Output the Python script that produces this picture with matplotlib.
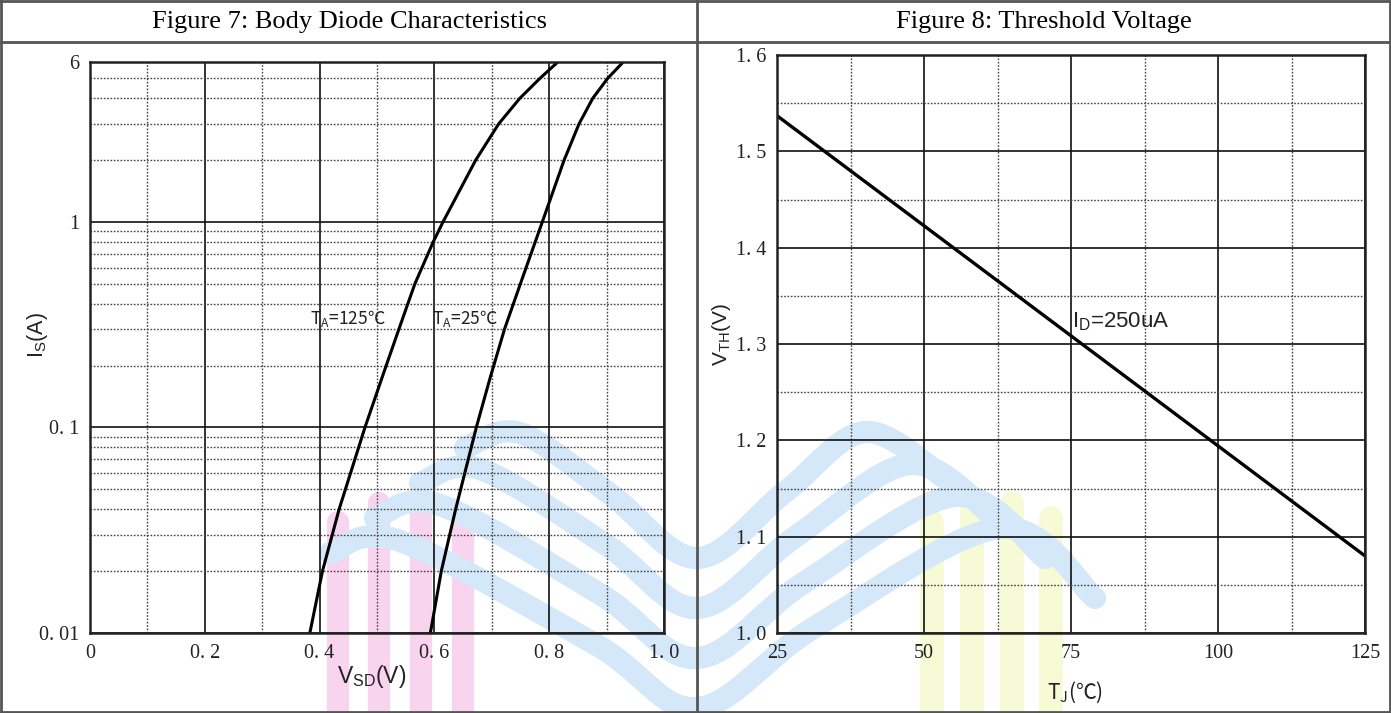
import numpy as np
import matplotlib
matplotlib.use("Agg")
import matplotlib.pyplot as plt
from matplotlib.lines import Line2D
from matplotlib.ticker import FixedLocator, NullFormatter

plt.rcParams['mathtext.default'] = 'regular'

# ---------------- data ----------------
# Figure 7: body diode, Is (A) vs Vsd (V)
is_125 = [0.01, 0.02, 0.04, 0.1, 0.2, 0.3, 0.5, 0.8, 1.0, 2.0, 3.0, 4.0, 5.0, 6.0]
vsd_125 = [0.383, 0.405, 0.434, 0.479, 0.516, 0.538, 0.566, 0.598, 0.615, 0.672, 0.712, 0.749, 0.784, 0.815]
is_25 = [0.01, 0.02, 0.04, 0.1, 0.174, 0.3, 0.53, 1.0, 2.0, 3.0, 4.0, 5.0, 6.0]
vsd_25 = [0.593, 0.612, 0.637, 0.673, 0.697, 0.722, 0.753, 0.788, 0.826, 0.852, 0.876, 0.902, 0.929]
vsd_ticks = [0, 0.2, 0.4, 0.6, 0.8, 1.0]
vsd_ticklabels = ['0', '0. 2', '0. 4', '0. 6', '0. 8', '1. 0']
vsd_minor = [0.1, 0.3, 0.5, 0.7, 0.9]
is_ticks = [0.01, 0.1, 1, 6]
is_ticklabels = ['0. 01', '0. 1', '1', '6']
is_minor = [0.02, 0.03, 0.04, 0.05, 0.06, 0.07, 0.08, 0.09,
            0.2, 0.3, 0.4, 0.5, 0.6, 0.7, 0.8, 0.9,
            2, 3, 4, 5]

# Figure 8: threshold voltage vs Tj
tj = [25, 125]
vth = [1.537, 1.08]
tj_ticks = [25, 50, 75, 100, 125]
tj_ticklabels = ['25', '50', '75', '100', '125']
tj_minor = [37.5, 62.5, 87.5, 112.5]
vth_ticks = [1.0, 1.1, 1.2, 1.3, 1.4, 1.5, 1.6]
vth_ticklabels = ['1. 0', '1. 1', '1. 2', '1. 3', '1. 4', '1. 5', '1. 6']
vth_minor = [1.05, 1.15, 1.25, 1.35, 1.45, 1.55]

W, H = 1391, 713
fig = plt.figure(figsize=(W / 100, H / 100), dpi=100)
fig.patch.set_facecolor('white')

def fx(px):
    return px / W

def fy(py):
    return 1 - py / H

# ---------------- faint background watermark (decoration) ----------------
def smooth_path(pts, n=24):
    p = np.asarray(pts, float)
    p = np.vstack([p[0], p, p[-1]])
    out = []
    for i in range(1, len(p) - 2):
        p0, p1, p2, p3 = p[i - 1], p[i], p[i + 1], p[i + 2]
        t = np.linspace(0, 1, n, endpoint=False)[:, None]
        seg = 0.5 * ((2 * p1) + (-p0 + p2) * t + (2 * p0 - 5 * p1 + 4 * p2 - p3) * t ** 2
                     + (-p0 + 3 * p1 - 3 * p2 + p3) * t ** 3)
        out.append(seg)
    out.append(p[-2][None, :])
    return np.vstack(out)

def wm_line(xs, ys, color, lw, cap='butt'):
    fig.add_artist(Line2D([fx(v) for v in xs], [fy(v) for v in ys], color=color,
                          lw=lw, solid_capstyle=cap, transform=fig.transFigure, zorder=-5))

pink = '#f9d4ee'
for x0, top in [(338, 522), (379, 503), (421, 505), (463, 522)]:
    wm_line([x0, x0], [top, H + 20], pink, 16, cap='round')
yellow = '#f6fbd6'
for x0, top in [(932, 522), (972, 506), (1012, 503), (1051, 518)]:
    wm_line([x0, x0], [top, H + 20], yellow, 17, cap='round')

blue = '#d4e8f9'
for k in range(4):
    pts = [(465 - 45 * k, 448 + 35 * k), (520 - 40 * k, 433 + 36 * k),
           (610 - 5 * k, 494 + 50 * k), (697, 558 + 50 * k),
           (785 + 10 * k, 492 + 45 * k), (865 + 45 * k, 432 + 32 * k),
           (945 + 50 * k, 478 + 40 * k)]
    c = smooth_path(pts)
    wm_line(c[:, 0], c[:, 1], blue, 16, cap='round')

# ---------------- table frame ----------------
frame_kw = dict(color='#555555', lw=2.0, transform=fig.transFigure)
fig.add_artist(Line2D([fx(1), fx(W - 1)], [fy(1), fy(1)], **frame_kw))
fig.add_artist(Line2D([fx(1), fx(W - 1)], [fy(H - 1), fy(H - 1)], **frame_kw))
fig.add_artist(Line2D([fx(1), fx(1)], [fy(0), fy(H)], **frame_kw))
fig.add_artist(Line2D([fx(W - 1), fx(W - 1)], [fy(0), fy(H)], **frame_kw))
fig.add_artist(Line2D([fx(1), fx(W - 1)], [fy(42), fy(42)], **frame_kw))
fig.add_artist(Line2D([fx(697), fx(697)], [fy(0), fy(H)], **frame_kw))

title_kw = dict(family='Liberation Serif', fontsize=19, ha='center', va='center')
fig.text(fx(349), fy(22), 'Figure 7: Body Diode Characteristics', **title_kw)
fig.text(fx(1044), fy(22), 'Figure 8: Threshold Voltage', **title_kw)

tick_font = dict(family='Liberation Serif', size=14.5)
label_font = ['Liberation Sans', 'DejaVu Sans']

def style_axes(ax):
    ax.set_facecolor('none')
    for s in ax.spines.values():
        s.set_linewidth(1.8)
        s.set_color('#222222')
    ax.tick_params(which='both', length=0, pad=8, colors='#222222')
    for lab in ax.get_xticklabels() + ax.get_yticklabels():
        lab.set_fontfamily(tick_font['family'])
        lab.set_fontsize(tick_font['size'])
    ax.grid(which='major', color='#111111', lw=1.2, ls='-')
    ax.grid(which='minor', color='#444444', lw=1.0, ls=(0, (1.2, 1.2)))
    ax.set_axisbelow(True)

# ---------------- left chart ----------------
ax1 = fig.add_axes([fx(90), fy(633), fx(664) - fx(90), fy(62) - fy(633)])
ax1.set_yscale('log')
ax1.set_xlim(0, 1.0)
ax1.set_ylim(0.01, 6)
ax1.set_xticks(vsd_ticks)
ax1.set_xticklabels(vsd_ticklabels)
ax1.xaxis.set_minor_locator(FixedLocator(vsd_minor))
ax1.set_yticks(is_ticks)
ax1.set_yticklabels(is_ticklabels)
ax1.yaxis.set_minor_locator(FixedLocator(is_minor))
ax1.yaxis.set_minor_formatter(NullFormatter())
style_axes(ax1)
ax1.plot(vsd_125, is_125, color='black', lw=2.2, solid_joinstyle='round')
ax1.plot(vsd_25, is_25, color='black', lw=2.2, solid_joinstyle='round')
ax1.text(0.383, 0.34, 'T$_A$=125℃', family='Noto Sans CJK SC', fontsize=12.5,
         ha='left', va='center', color='#222222')
ax1.text(0.595, 0.34, 'T$_A$=25℃', family='Noto Sans CJK SC', fontsize=12.5,
         ha='left', va='center', color='#222222')

fig.text(fx(38), fy(335), 'I$_S$(A)', family=label_font, fontsize=15.5,
         rotation=90, ha='center', va='center', color='#222222')
fig.text(fx(372), fy(676), 'V$_{SD}$(V)', family=label_font, fontsize=16.5,
         ha='center', va='center', color='#222222')

# ---------------- right chart ----------------
ax2 = fig.add_axes([fx(777), fy(633), fx(1365) - fx(777), fy(55) - fy(633)])
ax2.set_xlim(25, 125)
ax2.set_ylim(1.0, 1.6)
ax2.set_xticks(tj_ticks)
ax2.set_xticklabels(tj_ticklabels)
ax2.xaxis.set_minor_locator(FixedLocator(tj_minor))
ax2.set_yticks(vth_ticks)
ax2.set_yticklabels(vth_ticklabels)
ax2.yaxis.set_minor_locator(FixedLocator(vth_minor))
style_axes(ax2)
ax2.plot(tj, vth, color='black', lw=2.4)
ax2.text(75.2, 1.323, 'I$_D$=250uA', family=label_font, fontsize=16,
         ha='left', va='center', color='#222222')

fig.text(fx(721), fy(335), 'V$_{TH}$(V)', family=label_font, fontsize=15,
         rotation=90, ha='center', va='center', color='#222222')
fig.text(fx(1075), fy(692), 'T$_J$(℃)', family='Noto Sans CJK SC', fontsize=15,
         ha='center', va='center', color='#222222')

fig.savefig('out.png', dpi=100, facecolor='white')
